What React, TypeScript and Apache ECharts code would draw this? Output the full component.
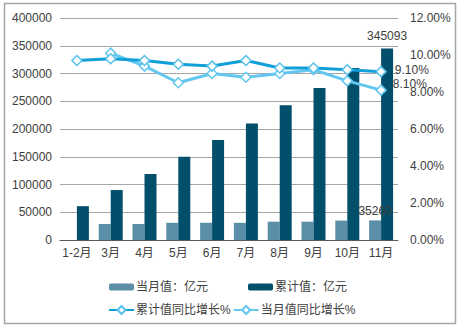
import React, { useEffect, useRef } from "react";
import * as echarts from "echarts";

const categories = ["1-2月", "3月", "4月", "5月", "6月", "7月", "8月", "9月", "10月", "11月"];
const monthlyValue = [null, 28800, 28800, 31000, 31000, 31000, 33000, 33000, 35000, 35260];
const cumulativeValue = [61000, 90000, 119000, 150000, 180000, 210000, 243000, 274000, 310000, 345093];
const cumulativeGrowth = [9.7, 9.8, 9.7, 9.5, 9.4, 9.7, 9.3, 9.3, 9.2, 9.1];
const monthlyGrowth = [null, 10.1, 9.4, 8.5, 9.0, 8.8, 9.0, 9.2, 8.6, 8.1];

const FONT = "'Liberation Sans', 'Noto Sans CJK SC', sans-serif";
const TXT = "#404040";

export default function App() {
  const ref = useRef<HTMLDivElement>(null);
  useEffect(() => {
    if (!ref.current) return;
    const chart = echarts.init(ref.current, null, { renderer: "svg" });
    const last = categories.length - 1;
    chart.setOption({
      animation: false,
      textStyle: { fontFamily: FONT },
      graphic: [
        {
          type: "rect",
          shape: { x: 4.5, y: 3.5, width: 451, height: 320 },
          style: { fill: "none", stroke: "#a6a6a6", lineWidth: 1.5 },
          silent: true,
        },
      ],
      grid: { left: 60, right: 61, top: 18, bottom: 89 },
      legend: [
        {
          data: ["当月值：亿元", "累计值：亿元"],
          left: 104,
          top: 276,
          itemWidth: 25,
          itemHeight: 7,
          itemGap: 40,
          textStyle: { fontSize: 12, color: TXT, fontFamily: FONT, padding: [0, 0, 0, -3] },
        },
        {
          data: ["累计值同比增长%", "当月值同比增长%"],
          left: 103,
          top: 299,
          itemWidth: 25,
          itemHeight: 10,
          itemGap: 2,
          textStyle: { fontSize: 12, color: TXT, fontFamily: FONT, padding: [0, 0, 0, -3] },
        },
      ],
      xAxis: {
        type: "category",
        data: categories,
        axisLine: { lineStyle: { color: "#595959", width: 1 } },
        axisTick: { show: false },
        axisLabel: { color: TXT, fontSize: 12, margin: 7, interval: 0 },
      },
      yAxis: [
        {
          type: "value",
          min: 0,
          max: 400000,
          interval: 50000,
          axisLine: { show: false },
          axisTick: { show: false },
          axisLabel: { color: TXT, fontSize: 12, margin: 8, formatter: (v: number) => String(v) },
          splitLine: { lineStyle: { color: "#a6a6a6", width: 1 } },
        },
        {
          type: "value",
          min: 0,
          max: 12,
          interval: 2,
          position: "right",
          axisLine: { show: false },
          axisTick: { show: false },
          axisLabel: {
            color: TXT,
            fontSize: 12,
            margin: 12,
            formatter: (v: number) => v.toFixed(2) + "%",
          },
          splitLine: { show: false },
        },
      ],
      series: [
        {
          name: "当月值：亿元",
          type: "bar",
          data: monthlyValue.map((v, i) =>
            i === last
              ? { value: v, label: { show: true, position: "top", distance: 3, color: TXT, fontSize: 12 } }
              : v
          ),
          barWidth: 12,
          barGap: "0%",
          itemStyle: { color: "#5b8fa8" },
        },
        {
          name: "累计值：亿元",
          type: "bar",
          data: cumulativeValue.map((v, i) =>
            i === last
              ? { value: v, label: { show: true, position: "top", distance: 6, color: TXT, fontSize: 12 } }
              : v
          ),
          barWidth: 12,
          barGap: "0%",
          itemStyle: { color: "#024f6b" },
        },
        {
          name: "累计值同比增长%",
          type: "line",
          yAxisIndex: 1,
          data: cumulativeGrowth.map((v, i) =>
            i === last
              ? {
                  value: v,
                  label: {
                    show: true,
                    position: "right",
                    distance: 8,
                    offset: [0, -2],
                    color: TXT,
                    fontSize: 12,
                    formatter: (p: any) => p.value.toFixed(2) + "%",
                  },
                }
              : v
          ),
          symbol: "diamond",
          symbolSize: 10,
          lineStyle: { color: "#119fd8", width: 3 },
          itemStyle: { color: "#ffffff", borderColor: "#58c0ea", borderWidth: 1.5 },
          z: 4,
        },
        {
          name: "当月值同比增长%",
          type: "line",
          yAxisIndex: 1,
          data: monthlyGrowth.map((v, i) =>
            i === last
              ? {
                  value: v,
                  label: {
                    show: true,
                    position: "right",
                    distance: 6,
                    offset: [0, -6],
                    color: TXT,
                    fontSize: 12,
                    formatter: (p: any) => p.value.toFixed(2) + "%",
                  },
                }
              : v
          ),
          symbol: "diamond",
          symbolSize: 10,
          lineStyle: { color: "#63c7ef", width: 3 },
          itemStyle: { color: "#ffffff", borderColor: "#63c7ef", borderWidth: 1.5 },
          z: 3,
        },
      ],
    });
    return () => chart.dispose();
  }, []);
  return (
    <div
      ref={ref}
      style={{ position: "fixed", left: 0, top: 0, width: 459, height: 329, background: "#ffffff" }}
    />
  );
}
